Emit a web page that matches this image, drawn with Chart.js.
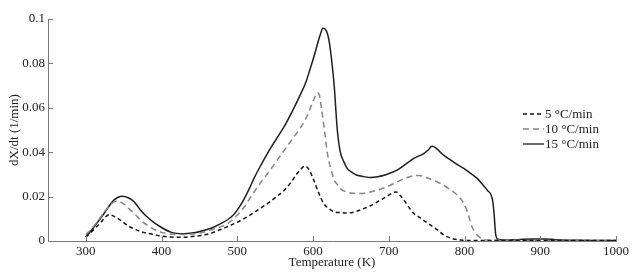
<!DOCTYPE html>
<html>
<head>
<meta charset="utf-8">
<script src="https://cdn.jsdelivr.net/npm/chart.js@4.4.1/dist/chart.umd.min.js"></script>
<style>
  html, body { margin: 0; padding: 0; background: #fff; }
  #wrap { width: 638px; height: 272px; }
</style>
</head>
<body>
<div id="wrap"><canvas id="dtg"></canvas></div>
<script>
// tick labels
const xTicks = [300, 400, 500, 600, 700, 800, 900, 1000];
const yTicks = [0, 0.02, 0.04, 0.06, 0.08, 0.1];

// 5 °C/min (black dashed)
const t5 = [300, 310, 320, 331, 338, 346, 356, 368, 380, 390, 400, 412, 425, 440, 452, 465, 480, 496, 510, 525, 540, 551, 562, 571, 579, 585, 589, 594, 601, 607, 614, 621, 628, 636, 645, 656, 667, 678, 689, 698, 705, 710, 715, 720, 727, 733, 740, 746, 759, 766, 773, 780, 786, 795, 810, 1000];
const r5 = [0.0018, 0.005, 0.0085, 0.0119, 0.011, 0.0093, 0.0068, 0.0048, 0.0036, 0.0029, 0.0022, 0.0018, 0.0017, 0.002, 0.0025, 0.0035, 0.0055, 0.0078, 0.0103, 0.0135, 0.0169, 0.0198, 0.0229, 0.0265, 0.0304, 0.0328, 0.0338, 0.0325, 0.0274, 0.022, 0.0169, 0.0145, 0.0131, 0.0128, 0.0126, 0.0132, 0.0146, 0.0163, 0.0184, 0.0202, 0.0217, 0.0221, 0.0205, 0.0184, 0.015, 0.0124, 0.0108, 0.0093, 0.0063, 0.0045, 0.0026, 0.0015, 0.0009, 0.0004, 0.0002, 0.0002];

// 10 °C/min (grey dashed)
const t10 = [300, 310, 320, 330, 337, 341, 348, 356, 364, 372, 381, 390, 399, 410, 421, 435, 452, 470, 487, 498, 509, 520, 530, 540, 551, 562, 573, 584, 591, 597, 602, 605, 608, 611, 615, 619, 623, 628, 632, 636, 645, 654, 663, 674, 685, 698, 711, 722, 733, 740, 750, 764, 773, 782, 791, 799, 803, 807, 810, 814, 817, 823, 830, 1000];
const r10 = [0.0028, 0.0065, 0.011, 0.0155, 0.0176, 0.018, 0.0172, 0.0148, 0.0124, 0.0095, 0.0071, 0.0053, 0.004, 0.0032, 0.0029, 0.003, 0.0037, 0.0055, 0.0078, 0.011, 0.0153, 0.021, 0.026, 0.0304, 0.0356, 0.0409, 0.046, 0.0514, 0.0555, 0.0604, 0.0645, 0.0668, 0.066, 0.06, 0.05, 0.0394, 0.033, 0.0274, 0.0255, 0.0236, 0.022, 0.0215, 0.0214, 0.022, 0.0229, 0.0245, 0.0266, 0.0283, 0.0294, 0.0295, 0.0285, 0.0266, 0.025, 0.0229, 0.0205, 0.0169, 0.0138, 0.0095, 0.0063, 0.004, 0.0026, 0.001, 0.0004, 0.0002];

// 15 °C/min (solid)
const t15 = [300, 310, 324, 337, 348, 356, 364, 372, 381, 390, 399, 412, 430, 445, 456, 467, 478, 488, 496, 503, 509, 516, 522, 531, 540, 551, 562, 573, 584, 591, 597, 602, 606, 610, 613, 617, 621, 625, 628, 632, 636, 641, 645, 651, 658, 667, 676, 685, 694, 702, 711, 722, 733, 746, 752, 757, 762, 768, 775, 782, 790, 799, 808, 817, 825, 830, 837, 839, 841, 844, 850, 870, 890, 905, 920, 950, 1000];
const r15 = [0.0018, 0.006, 0.0124, 0.0184, 0.0202, 0.0195, 0.0176, 0.014, 0.0108, 0.0083, 0.0063, 0.004, 0.0033, 0.0038, 0.0048, 0.006, 0.0078, 0.0098, 0.0122, 0.0155, 0.019, 0.0237, 0.0282, 0.0341, 0.0396, 0.0457, 0.0516, 0.0587, 0.0665, 0.072, 0.0785, 0.084, 0.089, 0.0935, 0.0958, 0.095, 0.0905, 0.08, 0.0695, 0.05, 0.04, 0.0355, 0.0327, 0.031, 0.0296, 0.029, 0.0286, 0.0289, 0.0296, 0.0306, 0.0319, 0.0345, 0.0372, 0.0394, 0.041, 0.0427, 0.042, 0.04, 0.038, 0.0364, 0.0345, 0.0327, 0.0305, 0.0281, 0.025, 0.0229, 0.0184, 0.0124, 0.0033, 0.0008, 0.0005, 0.0006, 0.0009, 0.0009, 0.0006, 0.0003, 0.0002];

const labels = ["5 °C/min", "10 °C/min", "15 °C/min"];

const FONT = "'Liberation Serif', 'DejaVu Serif', serif";
const AXIS = "#7a7a7a";
const TEXT = "#222";

function pts(t, r) {
  return t.map((x, i) => ({ x: x, y: r[i] }));
}

// small inward tick marks like the original figure
const inwardTicks = {
  id: "inwardTicks",
  afterDraw(chart) {
    const ctx = chart.ctx;
    const xs = chart.scales.x, ys = chart.scales.y;
    ctx.save();
    ctx.strokeStyle = AXIS;
    ctx.lineWidth = 1;
    ctx.beginPath();
    xTicks.forEach((v) => {
      const px = Math.round(xs.getPixelForValue(v)) + 0.5;
      ctx.moveTo(px, ys.bottom);
      ctx.lineTo(px, ys.bottom - 5);
    });
    yTicks.forEach((v) => {
      const py = Math.round(ys.getPixelForValue(v)) + 0.5;
      ctx.moveTo(xs.left, py);
      ctx.lineTo(xs.left + 5, py);
    });
    ctx.stroke();
    ctx.restore();
  },
};

// legend drawn inside the plot on the right
const innerLegend = {
  id: "innerLegend",
  afterDraw(chart) {
    const ctx = chart.ctx;
    ctx.save();
    ctx.font = "13px " + FONT;
    ctx.textBaseline = "middle";
    ctx.fillStyle = TEXT;
    const x0 = 523, x1 = 544;
    const rows = [114, 129, 144];
    chart.data.datasets.forEach((ds, i) => {
      ctx.beginPath();
      ctx.strokeStyle = ds.borderColor;
      ctx.lineWidth = 1.3;
      ctx.setLineDash(ds.borderDash || []);
      ctx.moveTo(x0, rows[i]);
      ctx.lineTo(x1, rows[i]);
      ctx.stroke();
      ctx.setLineDash([]);
      ctx.fillText(ds.label, x1 + 1, rows[i] + 1);
    });
    ctx.restore();
  },
};

new Chart(document.getElementById("dtg").getContext("2d"), {
  type: "line",
  data: {
    datasets: [
      {
        label: labels[0],
        data: pts(t5, r5),
        borderColor: "#151515",
        borderWidth: 1.5,
        borderDash: [4, 3],
        pointRadius: 0,
        cubicInterpolationMode: "monotone",
      },
      {
        label: labels[1],
        data: pts(t10, r10),
        borderColor: "#858585",
        borderWidth: 1.5,
        borderDash: [6, 4],
        pointRadius: 0,
        cubicInterpolationMode: "monotone",
      },
      {
        label: labels[2],
        data: pts(t15, r15),
        borderColor: "#1e1e1e",
        borderWidth: 1.5,
        pointRadius: 0,
        cubicInterpolationMode: "monotone",
      },
    ],
  },
  options: {
    responsive: true,
    maintainAspectRatio: false,
    animation: false,
    layout: { padding: { top: 19, right: 22, left: 0, bottom: 0 } },
    plugins: { legend: { display: false }, tooltip: { enabled: false } },
    scales: {
      x: {
        type: "linear",
        min: 250,
        max: 1000,
        afterBuildTicks: (s) => { s.ticks = xTicks.map((v) => ({ value: v })); },
        afterFit: (s) => { s.height = 31; },
        grid: { display: false, drawTicks: false },
        border: { color: AXIS, width: 1 },
        ticks: {
          color: TEXT,
          font: { family: FONT, size: 13 },
          padding: 3,
          maxRotation: 0,
          callback: (v) => String(v),
        },
        title: {
          display: true,
          text: "Temperature (K)",
          color: TEXT,
          font: { family: FONT, size: 13 },
          padding: { top: 0, bottom: 2 },
        },
      },
      y: {
        min: 0,
        max: 0.1,
        afterBuildTicks: (s) => { s.ticks = yTicks.map((v) => ({ value: v })); },
        afterFit: (s) => { s.width = 48; },
        grid: { display: false, drawTicks: false },
        border: { color: AXIS, width: 1 },
        ticks: {
          color: TEXT,
          font: { family: FONT, size: 13 },
          padding: 3,
          callback: (v) => String(Math.round(v * 100) / 100),
        },
        title: {
          display: true,
          text: "dX/dt (1/min)",
          color: TEXT,
          font: { family: FONT, size: 13 },
          padding: { top: 7, bottom: 0 },
        },
      },
    },
  },
  plugins: [inwardTicks, innerLegend],
});
</script>
</body>
</html>
